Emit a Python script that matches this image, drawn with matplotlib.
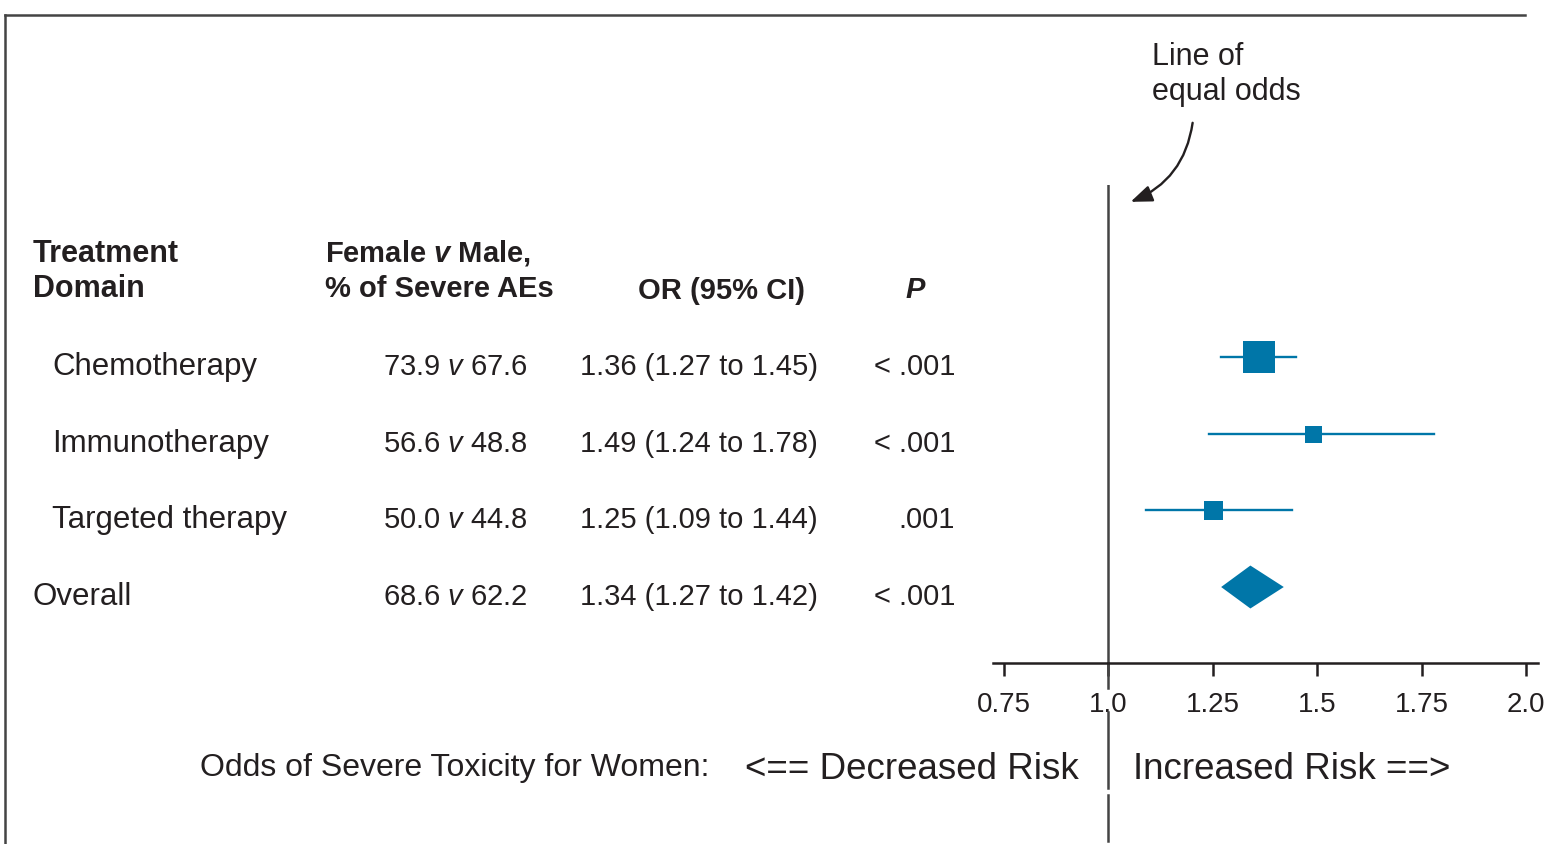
import matplotlib
matplotlib.use("Agg")
import matplotlib.pyplot as plt
import matplotlib.transforms as mtransforms
from matplotlib.lines import Line2D
from matplotlib.patches import Polygon

plt.rcParams['font.family'] = ['Liberation Sans', 'DejaVu Sans']
plt.rcParams['mathtext.fontset'] = 'custom'
plt.rcParams['mathtext.rm'] = 'Liberation Sans'
plt.rcParams['mathtext.it'] = 'Liberation Sans:italic'
plt.rcParams['mathtext.bf'] = 'Liberation Sans:bold'
plt.rcParams['mathtext.bfit'] = 'Liberation Sans:italic:bold'

# severe AEs by treatment domain, women vs men
domains = ['Chemotherapy', 'Immunotherapy', 'Targeted therapy', 'Overall']
female_pct = [73.9, 56.6, 50.0, 68.6]
male_pct = [67.6, 48.8, 44.8, 62.2]
odds_ratio = [1.36, 1.49, 1.25, 1.34]
ci_low = [1.27, 1.24, 1.09, 1.27]
ci_high = [1.45, 1.78, 1.44, 1.42]
p_values = ['< .001', '< .001', '.001', '< .001']
box_px = [32, 17, 19]  # box size per domain (study weight)
xticks = [0.75, 1.0, 1.25, 1.5, 1.75, 2.0]
xtick_labels = ['0.75', '1.0', '1.25', '1.5', '1.75', '2.0']

W, H = 1562, 844
BLUE = '#0076a8'
INK = '#231f20'
FS = 21

fig = plt.figure(figsize=(W / 100, H / 100), dpi=100)

# forest panel: x from 993 px to 1538 px, y from 185 px down to the axis at 663 px
ax = fig.add_axes([993 / W, 1 - 663 / H, 545 / W, (663 - 185) / H])
ax.set_xlim(0.7237, 2.0287)
ax.set_ylim(3.991, -2.243)
for s in ['top', 'right', 'left']:
    ax.spines[s].set_visible(False)
ax.spines['bottom'].set_linewidth(1.8)
ax.spines['bottom'].set_color(INK)
ax.set_yticks([])
ax.set_xticks(xticks)
ax.set_xticklabels(xtick_labels)
ax.tick_params(axis='x', direction='out', length=9, width=1.8, color=INK,
               labelsize=20, labelcolor=INK, pad=12)
ax.patch.set_alpha(0)

# line of equal odds, running below the axis between the labels
ax.axvline(1.0, color='#444444', lw=1.8, zorder=1)
for y0, y1 in [(3.99, 4.32), (4.63, 5.62), (5.71, 6.31)]:
    ax.plot([1.0, 1.0], [y0, y1], color='#444444', lw=1.8, clip_on=False)

for i in range(3):
    ax.plot([ci_low[i], ci_high[i]], [i, i], color=BLUE, lw=1.7, zorder=2)
    ax.scatter([odds_ratio[i]], [i], marker='s', s=(box_px[i] * 0.72) ** 2,
               color=BLUE, linewidths=0, zorder=3)

# pooled estimate as a diamond
h = 0.28
ax.add_patch(Polygon([(ci_low[3], 3), (odds_ratio[3], 3 - h), (ci_high[3], 3),
                      (odds_ratio[3], 3 + h)], closed=True, color=BLUE, lw=0))

ax.annotate('', xy=(1.047, -2.01), xytext=(1.2026, -3.09),
            arrowprops=dict(arrowstyle='-|>,head_length=1.3,head_width=0.5',
                            connectionstyle='arc3,rad=-0.3', color=INK, lw=1.7),
            annotation_clip=False)


def px(x, y):
    return x / W, 1 - y / H


fig.text(*px(1152, 65), 'Line of', fontsize=22, color=INK)
fig.text(*px(1152, 100), 'equal odds', fontsize=22, color=INK)

# column headers
fig.text(*px(33, 262), 'Treatment', fontsize=22, fontweight='bold', color=INK)
fig.text(*px(33, 297), 'Domain', fontsize=22, fontweight='bold', color=INK)
fig.text(*px(325, 262), r'Female $\mathbfit{v}$ Male,', fontsize=FS,
         fontweight='bold', color=INK)
fig.text(*px(325, 297), '% of Severe AEs', fontsize=FS, fontweight='bold', color=INK)
fig.text(*px(722, 299), 'OR (95% CI)', fontsize=FS, fontweight='bold', color=INK,
         ha='center')
fig.text(*px(915, 298), 'P', fontsize=FS, fontweight='bold', fontstyle='italic',
         color=INK, ha='center')

# table rows, tied to the forest rows
row_tr = mtransforms.blended_transform_factory(fig.transFigure, ax.transData)
row_tr = mtransforms.offset_copy(row_tr, fig=fig, x=0, y=-18, units='dots')
for i, name in enumerate(domains):
    indent = 33 if name == 'Overall' else 52
    fig.text(indent / W, i, name, fontsize=22.5, color=INK, transform=row_tr,
             va='baseline')
    fig.text(528 / W, i, f'{female_pct[i]:.1f} $\\mathit{{v}}$ {male_pct[i]:.1f}',
             fontsize=FS, color=INK, transform=row_tr, va='baseline', ha='right')
    fig.text(580 / W, i, f'{odds_ratio[i]:.2f} ({ci_low[i]:.2f} to {ci_high[i]:.2f})',
             fontsize=FS, color=INK, transform=row_tr, va='baseline')
    fig.text(955 / W, i, p_values[i], fontsize=FS, color=INK, transform=row_tr,
             va='baseline', ha='right')

# risk direction caption
fig.text(*px(200, 776), 'Odds of Severe Toxicity for Women:', fontsize=23, color=INK)
fig.text(*px(745, 779), '<== Decreased Risk', fontsize=26.5, color=INK)
fig.text(*px(1133, 779), 'Increased Risk ==>', fontsize=26.5, color=INK)

# outer frame (top and left edges)
frame_kw = dict(color='#444444', lw=1.8, transform=fig.transFigure)
fig.add_artist(Line2D([5 / W, 1525 / W], [1 - 15 / H, 1 - 15 / H], **frame_kw))
fig.add_artist(Line2D([5 / W, 5 / W], [1 - 15 / H, 0], **frame_kw))

fig.savefig('out.png', dpi=100)
